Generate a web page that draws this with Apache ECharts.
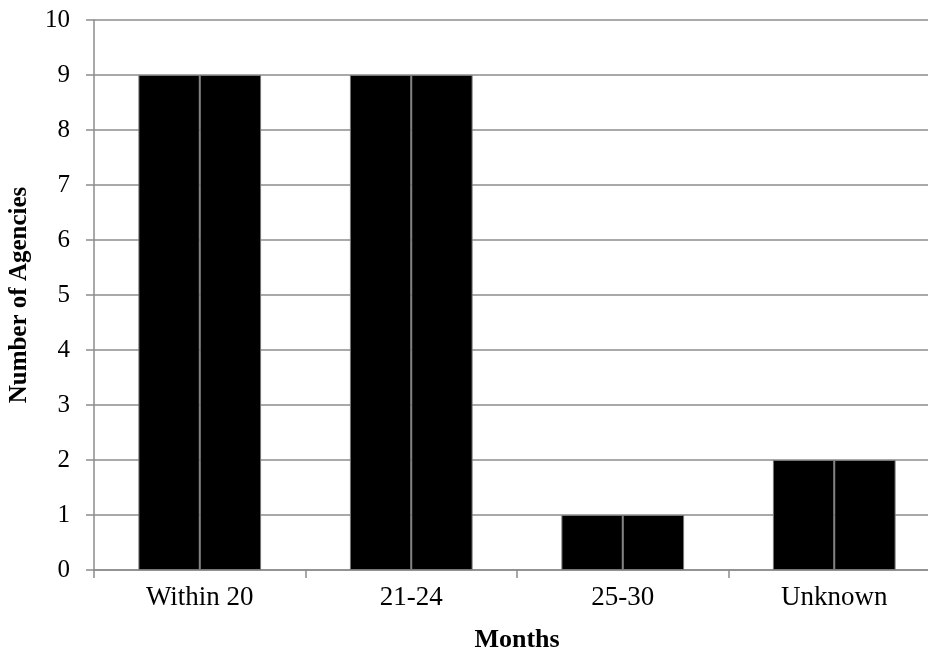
<!DOCTYPE html>
<html><head><meta charset="utf-8">
<script src="https://cdn.jsdelivr.net/npm/echarts@6/dist/echarts.min.js"></script>
<style>html,body{margin:0;padding:0;background:#fff}#c{width:928px;height:650px}</style>
</head><body><div id="c"></div>
<script>
const categories = ["Within 20", "21-24", "25-30", "Unknown"];
const seriesA = [9, 9, 1, 2];
const seriesB = [9, 9, 1, 2];
const yTicks = { min: 0, max: 10, interval: 1 };

const chart = echarts.init(document.getElementById('c'));
const font = '"Liberation Serif", "Times New Roman", serif';
const barStyle = { color: '#000', borderColor: '#777', borderWidth: 1 };
chart.setOption({
  animation: false,
  backgroundColor: '#fff',
  grid: { left: 94, right: -12, top: 20, bottom: 80, containLabel: false, outerBoundsMode: 'none' },
  xAxis: {
    type: 'category', data: categories,
    axisLine: { lineStyle: { color: '#8c8c8c', width: 1.5 } },
    axisTick: { show: true, length: 8, alignWithLabel: false, lineStyle: { color: '#8c8c8c', width: 1.5 } },
    axisLabel: { fontFamily: font, fontSize: 27, color: '#000', margin: 14 },
    name: 'Months', nameLocation: 'middle', nameGap: 57,
    nameTextStyle: { fontFamily: font, fontSize: 26, fontWeight: 'bold', color: '#000' }
  },
  yAxis: {
    type: 'value', min: yTicks.min, max: yTicks.max, interval: yTicks.interval,
    axisLine: { show: true, lineStyle: { color: '#8c8c8c', width: 1.5 } },
    axisTick: { show: true, length: 8, lineStyle: { color: '#8c8c8c', width: 1.5 } },
    splitLine: { lineStyle: { color: '#8c8c8c', width: 1.5 } },
    axisLabel: { fontFamily: font, fontSize: 25, color: '#000', margin: 24 },
    name: 'Number of Agencies', nameLocation: 'middle', nameGap: 62, nameRotate: 90,
    nameTextStyle: { fontFamily: font, fontSize: 25, fontWeight: 'bold', color: '#000' }
  },
  series: [
    { type: 'bar', data: seriesA, itemStyle: barStyle, barGap: '0%', barCategoryGap: '42%' },
    { type: 'bar', data: seriesB, itemStyle: barStyle, barGap: '0%', barCategoryGap: '42%' }
  ]
});
</script></body></html>
